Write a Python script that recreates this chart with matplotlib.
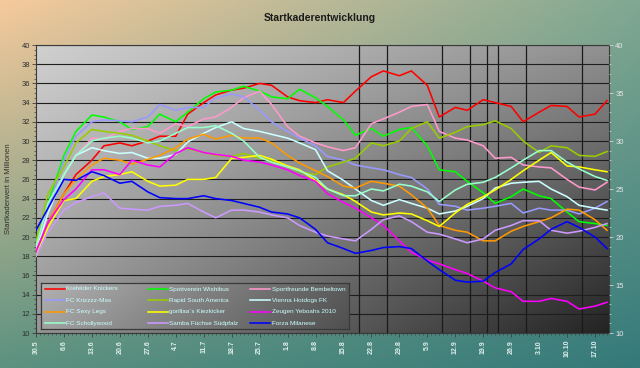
import numpy as np
import matplotlib
matplotlib.use("Agg")
import matplotlib.pyplot as plt
from matplotlib.ticker import MultipleLocator

plt.rcParams['font.family'] = ['Liberation Sans', 'DejaVu Sans']

# Tage seit 30.5 (Stichproben etwa alle 3-4 Tage)
days = [0, 3, 7, 10, 14, 17, 21, 24, 28, 31, 35, 38, 42, 45, 49, 52, 56, 59, 63, 66, 70,
        73, 77, 80, 84, 87, 91, 94, 98, 101, 105, 108, 112, 115, 119, 122, 126, 129, 133, 136, 140, 143]

tick_days = list(range(0, 141, 7))
tick_labels = ["30.5", "6.6", "13.6", "20.6", "27.6", "4.7", "11.7", "18.7", "25.7", "1.8", "8.8",
               "15.8", "22.8", "29.8", "5.9", "12.9", "19.9", "26.9", "3.10", "10.10", "17.10"]

# Spieltage / Transferfenster (senkrechte Linien)
marker_days = [80.8, 87.8, 101.8, 108.8, 112.9, 115.8, 122.8, 136.8]

krefelder = [18.5, 21.5, 24.5, 26.5, 28.0, 29.5, 29.8, 29.5, 30.0, 30.5, 30.5, 32.8, 34.0, 34.8, 35.3, 35.5, 36.0, 35.8, 34.6, 34.2, 34.0,
             34.3, 34.0, 35.2, 36.7, 37.3, 36.8, 37.3, 35.8, 32.5, 33.5, 33.2, 34.3, 34.0, 33.6, 32.0, 33.0, 33.7, 33.6, 32.5, 32.8, 34.2]
spottverein = [19.0, 23.5, 28.5, 31.0, 32.7, 32.5, 32.0, 31.2, 31.5, 32.8, 32.0, 33.0, 34.4, 35.1, 35.3, 35.7, 35.2, 34.6, 34.4, 35.4, 34.5,
               33.6, 32.2, 30.6, 31.3, 30.5, 31.2, 31.4, 29.5, 27.0, 26.8, 25.8, 24.6, 23.5, 24.2, 25.0, 24.3, 24.0, 22.6, 21.6, 21.4, 21.2]
sportfreunde = [18.5, 22.5, 26.5, 28.5, 30.3, 30.2, 31.0, 31.3, 31.3, 30.8, 31.8, 31.5, 32.3, 32.5, 33.5, 34.5, 35.2, 33.8, 31.5, 30.5, 29.8,
                29.4, 29.0, 29.3, 31.8, 32.3, 33.0, 33.6, 33.8, 31.0, 30.3, 30.1, 29.5, 28.2, 28.3, 27.5, 27.3, 27.2, 26.0, 25.2, 24.9, 25.7]
krizzzz = [19.0, 23.0, 28.0, 30.5, 32.0, 32.2, 32.1, 32.0, 32.5, 33.8, 33.2, 33.5, 33.5, 34.5, 34.9, 34.6, 33.2, 32.0, 31.0, 30.3, 29.5,
           28.4, 28.0, 27.5, 27.2, 27.0, 26.5, 26.2, 25.0, 23.4, 23.2, 22.8, 23.0, 23.2, 23.5, 22.5, 23.0, 22.8, 22.8, 22.4, 23.0, 23.7]
rapid = [19.5, 24.5, 27.3, 29.8, 31.2, 31.0, 30.8, 30.6, 30.0, 29.5, 29.0, 29.2, 28.8, 28.5, 28.4, 28.7, 28.2, 28.0, 27.3, 26.8, 26.5,
         27.3, 27.8, 28.2, 29.8, 29.5, 30.0, 31.3, 32.0, 30.3, 30.9, 31.5, 31.7, 32.1, 31.3, 30.0, 28.8, 29.5, 29.3, 28.5, 28.4, 28.9]
vienna = [18.5, 22.5, 26.5, 28.5, 29.3, 29.0, 28.7, 28.8, 28.2, 28.2, 28.6, 29.9, 30.8, 31.4, 32.0, 31.3, 31.0, 30.7, 30.3, 29.8, 29.1,
          26.9, 25.9, 25.0, 23.8, 23.3, 23.9, 23.5, 23.0, 22.4, 22.7, 23.2, 24.0, 25.1, 25.6, 25.7, 25.8, 25.0, 24.2, 23.3, 23.0, 22.8]
sexy_legs = [18.5, 21.5, 24.5, 26.0, 27.5, 28.2, 28.0, 27.6, 28.1, 28.5, 29.3, 30.2, 30.7, 30.2, 30.6, 30.3, 30.3, 29.8, 28.5, 27.7, 26.9,
             26.3, 25.3, 25.1, 25.8, 25.6, 25.3, 24.4, 23.0, 21.2, 20.7, 20.5, 19.6, 19.6, 20.6, 21.1, 21.6, 22.0, 22.9, 22.8, 21.8, 20.7]
gorilla = [18.0, 21.0, 23.8, 24.0, 25.8, 26.3, 26.5, 26.8, 25.8, 25.3, 25.4, 26.0, 26.0, 26.2, 28.2, 28.3, 28.5, 28.1, 27.4, 27.0, 25.9,
           25.0, 24.4, 23.7, 22.6, 22.3, 22.5, 22.4, 21.7, 21.1, 22.5, 23.4, 24.2, 24.9, 26.0, 26.9, 28.0, 28.8, 27.4, 27.3, 27.0, 26.8]
zeugen = [18.5, 21.5, 23.9, 25.0, 27.0, 27.0, 26.5, 28.0, 27.5, 27.3, 28.7, 29.3, 28.8, 28.6, 28.4, 28.0, 27.8, 27.5, 27.0, 26.4, 25.8,
          24.5, 23.6, 23.0, 22.0, 21.2, 19.6, 18.4, 17.6, 17.2, 16.6, 16.2, 15.4, 14.7, 14.3, 13.3, 13.3, 13.6, 13.3, 12.5, 12.8, 13.2]
schollywood = [19.0, 23.5, 26.5, 28.5, 30.0, 30.3, 30.5, 30.3, 29.8, 30.0, 30.8, 31.4, 31.4, 31.6, 30.8, 30.0, 28.3, 27.8, 27.3, 26.9, 26.2,
               25.0, 24.3, 24.3, 25.0, 24.8, 25.5, 25.3, 24.7, 23.7, 24.9, 25.5, 25.7, 26.2, 27.2, 28.0, 29.0, 29.0, 27.8, 27.1, 26.3, 25.9]
samba = [18.0, 20.5, 22.8, 23.6, 24.2, 24.6, 23.0, 22.9, 22.8, 23.2, 23.3, 23.5, 22.6, 22.0, 22.8, 22.8, 22.6, 22.3, 22.0, 21.2, 20.5,
         20.1, 19.8, 19.6, 20.8, 21.8, 22.2, 21.6, 20.5, 20.3, 19.8, 19.4, 19.8, 20.7, 21.2, 21.7, 21.7, 20.7, 20.4, 20.6, 21.0, 21.4]
forza = [20.7, 23.0, 26.0, 25.9, 26.8, 26.4, 25.6, 25.8, 24.7, 24.1, 24.0, 24.0, 24.3, 24.0, 23.8, 23.5, 23.1, 22.6, 22.4, 22.0, 20.8,
         19.4, 18.8, 18.3, 18.6, 18.9, 19.0, 18.8, 17.5, 16.6, 15.5, 15.3, 15.4, 16.3, 17.2, 18.7, 19.8, 20.8, 21.6, 21.0, 20.0, 18.8]

names = ["Krefelder Knickers", "Spottverein Wishibus", "Sportfreunde Bembeltown",
         "FC Krizzzz-Mas", "Rapid South America", "Vienna Hotdogs FK",
         "FC Sexy Legs", "gorillaa´s Kiezkicker", "Zeugen Yeboahs 2010",
         "FC Schollywood", "Samba Füchse Südpfalz", "Forza Milanese"]
series = [krefelder, spottverein, sportfreunde, krizzzz, rapid, vienna,
          sexy_legs, gorilla, zeugen, schollywood, samba, forza]
colors = ["#ff0000", "#00ff00", "#ff99cc", "#9999ff", "#99cc00", "#ccffff",
          "#ff9900", "#ffff00", "#ff00ff", "#99ffcc", "#cc99ff", "#0000ff"]


def gradient(tl, tr, bl, br, n=200):
    t = np.linspace(0, 1, n)
    u, v = np.meshgrid(t, t)
    tl, tr, bl, br = [np.array(c) / 255.0 for c in (tl, tr, bl, br)]
    img = ((1 - u) * (1 - v))[..., None] * tl + (u * (1 - v))[..., None] * tr \
        + ((1 - u) * v)[..., None] * bl + (u * v)[..., None] * br
    return np.clip(img, 0, 1)


W, H = 640, 368
fig = plt.figure(figsize=(6.4, 3.68), dpi=100)

# Hintergrund der Grafik
bg = fig.add_axes([0, 0, 1, 1], zorder=-10)
bg.imshow(gradient((246, 202, 156), (128, 168, 146), (92, 146, 128), (52, 122, 122)),
          aspect='auto', extent=[0, 1, 0, 1])
bg.axis('off')

ax = fig.add_axes([36 / W, 1 - 333 / H, 573 / W, 288 / H])
xmax = 143.5
ax.imshow(gradient((208, 208, 208), (145, 145, 145), (150, 150, 150), (35, 35, 35)),
          aspect='auto', extent=[0, xmax, 10, 40], zorder=0)
ax.set_xlim(0, xmax)
ax.set_ylim(10, 40)
ax.set_axisbelow(True)
ax.grid(axis='y', which='major', color='#1e1e1e', lw=0.8)
for d in marker_days:
    ax.axvline(d, color='#1a1a1a', lw=0.9, zorder=1)

for i, (vals, col) in enumerate(zip(series, colors)):
    ax.plot(days, vals, color=col, lw=1.15, zorder=3 + i, solid_joinstyle='round')

ax.yaxis.set_major_locator(MultipleLocator(2))
ax.yaxis.set_minor_locator(MultipleLocator(0.5))
ax.tick_params(axis='y', which='major', direction='out', length=3, width=0.6,
               color='#404040', labelcolor='#303030', labelsize=5.5, pad=1.5)
ax.tick_params(axis='y', which='minor', direction='out', length=1.5, width=0.5, color='#404040')

ax.set_xticks(tick_days)
ax.set_xticklabels(tick_labels, rotation=90, fontsize=5, fontweight='bold', color='#dff0ec')
ax.xaxis.set_minor_locator(MultipleLocator(1))
ax.tick_params(axis='x', which='major', direction='out', length=3, width=0.6, color='#404040', pad=2)
ax.tick_params(axis='x', which='minor', direction='out', length=1.5, width=0.5, color='#404040')
for s in ax.spines.values():
    s.set_color('#3a3a3a')
    s.set_linewidth(0.8)

ax2 = ax.twinx()
ax2.set_ylim(10, 40)
ax2.yaxis.set_major_locator(MultipleLocator(5))
ax2.yaxis.set_minor_locator(MultipleLocator(1))
ax2.tick_params(axis='y', which='major', direction='out', length=3, width=0.6,
                color='#d0d0d0', labelcolor='#e8e8e8', labelsize=5.5, pad=1.5)
ax2.tick_params(axis='y', which='minor', direction='out', length=1.5, width=0.5, color='#d0d0d0')
for s in ax2.spines.values():
    s.set_visible(False)

fig.text(0.5, 1 - 18 / H, "Startkaderentwicklung", ha='center', va='center',
         fontsize=7.5, fontweight='bold', color='#1a1a1a')
fig.text(9 / W, 1 - 189 / H, "Startkaderwert in Millionen", ha='center', va='center',
         rotation=90, fontsize=5.5, color='#303030')

# Legende
lx, ly, lw_, lh = 41, 283, 308, 46
lg = fig.add_axes([lx / W, 1 - (ly + lh) / H, lw_ / W, lh / H], zorder=20)
lg.imshow(gradient((178, 178, 178), (92, 92, 92), (160, 160, 160), (80, 80, 80)),
          aspect='auto', extent=[0, lw_, lh, 0])
lg.set_xlim(0, lw_)
lg.set_ylim(lh, 0)
lg.set_xticks([])
lg.set_yticks([])
for s in lg.spines.values():
    s.set_color('#3a3a3a')
    s.set_linewidth(0.9)
for k, (name, col) in enumerate(zip(names, colors)):
    r, c = k // 3, k % 3
    x0 = 4 + 102.5 * c
    y0 = 6 + 11.35 * r
    lg.plot([x0, x0 + 20], [y0, y0], color=col, lw=1.15)
    lg.text(x0 + 21.5, y0, name, fontsize=4.6, color='#ccffff', va='center', ha='left')

fig.savefig("out.png", dpi=100)
